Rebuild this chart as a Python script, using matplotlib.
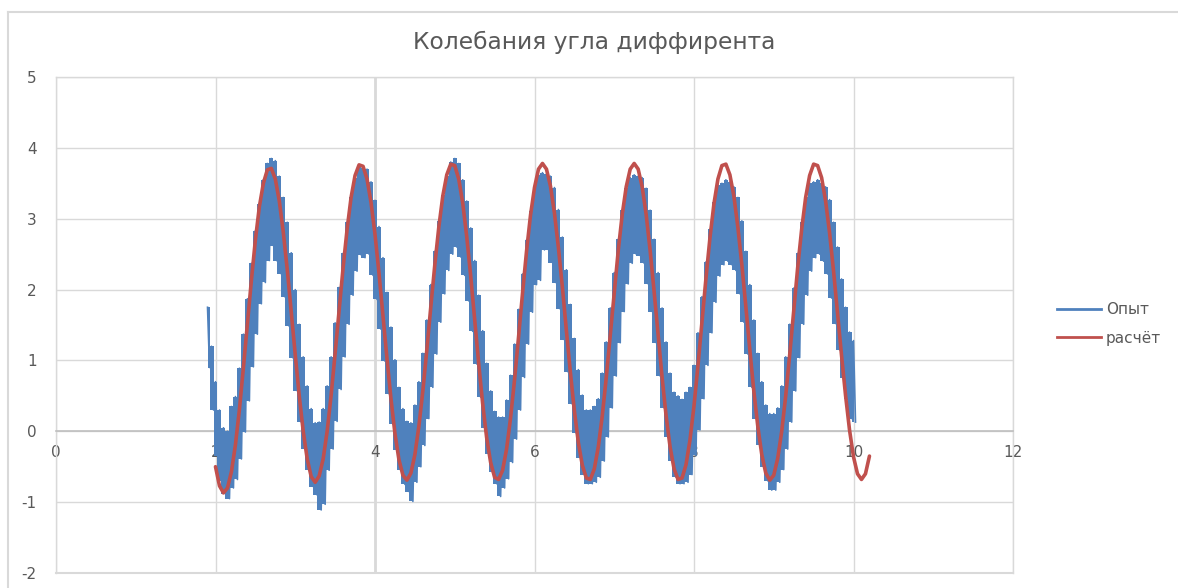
import numpy as np
import matplotlib.pyplot as plt
from matplotlib.lines import Line2D

title = "Колебания угла диффирента"
names = ["Опыт", "расчёт"]

x_ticks = [0, 2, 4, 6, 8, 10, 12]
y_ticks = [-2, -1, 0, 1, 2, 3, 4, 5]

# расчёт: x from 2.00 step 0.05
calc_x0, calc_dx = 2.0, 0.05
calc_y = [
    -0.50, -0.77, -0.87, -0.80, -0.57, -0.19, 0.31, 0.90, 1.52, 2.13,
    2.70, 3.17, 3.50, 3.69, 3.71, 3.56, 3.25, 2.81, 2.28, 1.68,
    1.08, 0.50, 0.00, -0.39, -0.64, -0.72, -0.63, -0.39, 0.00, 0.51,
    1.10, 1.71, 2.31, 2.85, 3.30, 3.61, 3.76, 3.74, 3.56, 3.23,
    2.78, 2.23, 1.63, 1.03, 0.46, -0.03, -0.40, -0.62, -0.69, -0.59,
    -0.33, 0.07, 0.57, 1.15, 1.76, 2.35, 2.88, 3.32, 3.62, 3.77,
    3.75, 3.56, 3.22, 2.75, 2.19, 1.58, 0.96, 0.39, -0.09, -0.44,
    -0.65, -0.68, -0.55, -0.25, 0.19, 0.73, 1.33, 1.95, 2.54, 3.05,
    3.44, 3.70, 3.78, 3.70, 3.46, 3.08, 2.59, 2.03, 1.42, 0.83,
    0.29, -0.16, -0.48, -0.66, -0.68, -0.53, -0.22, 0.22, 0.76, 1.36,
    1.97, 2.55, 3.06, 3.45, 3.70, 3.78, 3.70, 3.45, 3.06, 2.55,
    1.97, 1.36, 0.76, 0.22, -0.22, -0.53, -0.68, -0.66, -0.47, -0.12,
    0.36, 0.93, 1.55, 2.16, 2.73, 3.21, 3.56, 3.75, 3.77, 3.62,
    3.32, 2.88, 2.35, 1.76, 1.15, 0.57, 0.07, -0.33, -0.59, -0.69,
    -0.62, -0.38, 0.00, 0.50, 1.08, 1.70, 2.31, 2.85, 3.30, 3.61,
    3.77, 3.75, 3.58, 3.25, 2.80, 2.26, 1.67, 1.07, 0.51, 0.02,
    -0.36, -0.60, -0.68, -0.60, -0.35,
]

# Опыт: noisy record, read as upper / lower edge of the band, x from 1.90 step 0.05
exp_x0, exp_dx = 1.9, 0.05
exp_hi = [
    1.75, 1.20, 0.70, 0.30, 0.05, 0.00, 0.35, 0.49, 0.89, 1.37,
    1.87, 2.37, 2.83, 3.21, 3.55, 3.78, 3.85, 3.82, 3.60, 3.30,
    2.95, 2.52, 2.00, 1.51, 1.05, 0.64, 0.32, 0.12, 0.13, 0.32,
    0.64, 1.05, 1.53, 2.03, 2.51, 2.95, 3.31, 3.58, 3.75, 3.72,
    3.70, 3.52, 3.26, 2.89, 2.45, 1.96, 1.47, 1.01, 0.62, 0.32,
    0.14, 0.12, 0.37, 0.70, 1.10, 1.57, 2.07, 2.54, 2.97, 3.33,
    3.60, 3.80, 3.85, 3.78, 3.55, 3.25, 2.87, 2.41, 1.92, 1.42,
    0.96, 0.57, 0.28, 0.20, 0.20, 0.44, 0.79, 1.23, 1.72, 2.22,
    2.70, 3.11, 3.43, 3.62, 3.65, 3.63, 3.60, 3.44, 3.13, 2.74,
    2.28, 1.79, 1.31, 0.87, 0.51, 0.30, 0.30, 0.35, 0.46, 0.82,
    1.26, 1.74, 2.24, 2.71, 3.12, 3.43, 3.58, 3.62, 3.60, 3.58,
    3.43, 3.12, 2.71, 2.24, 1.74, 1.26, 0.82, 0.55, 0.50, 0.45,
    0.55, 0.62, 0.93, 1.39, 1.90, 2.39, 2.85, 3.24, 3.48, 3.50,
    3.55, 3.52, 3.45, 3.30, 2.97, 2.54, 2.07, 1.57, 1.10, 0.70,
    0.37, 0.25, 0.25, 0.33, 0.64, 1.05, 1.51, 2.02, 2.51, 2.95,
    3.31, 3.50, 3.52, 3.55, 3.50, 3.45, 3.27, 2.95, 2.60, 2.15,
    1.75, 1.40, 1.28,
]
exp_lo = [
    0.90, 0.30, -0.35, -0.70, -0.88, -0.95, -0.80, -0.68, -0.39, -0.01,
    0.43, 0.91, 1.37, 1.80, 2.10, 2.41, 2.62, 2.40, 2.22, 1.89,
    1.48, 1.03, 0.57, 0.13, -0.25, -0.55, -0.78, -0.90, -1.11, -1.03,
    -0.55, -0.25, 0.14, 0.59, 1.05, 1.51, 1.92, 2.26, 2.49, 2.45,
    2.50, 2.20, 1.86, 1.44, 0.99, 0.53, 0.10, -0.27, -0.55, -0.75,
    -0.85, -0.99, -0.72, -0.50, -0.20, 0.18, 0.62, 1.09, 1.54, 1.94,
    2.27, 2.50, 2.60, 2.46, 2.20, 1.84, 1.41, 0.95, 0.48, 0.05,
    -0.32, -0.58, -0.74, -0.92, -0.80, -0.67, -0.44, -0.11, 0.30, 0.76,
    1.23, 1.68, 2.07, 2.13, 2.56, 2.56, 2.38, 2.09, 1.72, 1.29,
    0.83, 0.38, -0.03, -0.37, -0.61, -0.74, -0.74, -0.72, -0.65, -0.42,
    -0.08, 0.33, 0.78, 1.25, 1.69, 2.08, 2.37, 2.50, 2.48, 2.37,
    2.08, 1.69, 1.25, 0.78, 0.33, -0.08, -0.42, -0.65, -0.74, -0.74,
    -0.72, -0.61, -0.34, 0.02, 0.46, 0.93, 1.39, 1.82, 2.19, 2.35,
    2.40, 2.35, 2.27, 1.94, 1.54, 1.09, 0.62, 0.18, -0.20, -0.50,
    -0.70, -0.83, -0.83, -0.72, -0.54, -0.25, 0.13, 0.57, 1.04, 1.51,
    1.92, 2.26, 2.45, 2.50, 2.40, 2.22, 1.88, 1.52, 1.15, 0.75,
    0.45, 0.18, 0.13,
]

blue = '#4F81BD'
red = '#C0504D'
grid_c = '#D9D9D9'
text_c = '#595959'

plt.rcParams['font.family'] = ['DejaVu Sans']
plt.rcParams['axes.unicode_minus'] = False

calc_x = calc_x0 + calc_dx * np.arange(len(calc_y))
exp_x = exp_x0 + exp_dx * np.arange(len(exp_hi))
# the record swings between its upper and lower edge sample by sample
zig_x = np.column_stack([exp_x, exp_x + exp_dx / 2]).ravel()
zig_y = np.column_stack([exp_hi, exp_lo]).ravel()

fig = plt.figure(figsize=(11.78, 5.88), dpi=100)
ax = fig.add_axes([56 / 1178, 1 - 573 / 588, (1013 - 56) / 1178, (573 - 77) / 588])

ax.fill_between(exp_x, exp_lo, exp_hi, step='mid', color=blue, lw=0, zorder=3)
ax.plot(zig_x, zig_y, color=blue, lw=1.2, zorder=3)
ax.plot(calc_x, calc_y, color=red, lw=2.6, zorder=4, solid_capstyle='round')

ax.set_xlim(0, 12)
ax.set_ylim(-2, 5)
ax.set_xticks(x_ticks)
ax.set_yticks(y_ticks)
ax.grid(True, color=grid_c, lw=1, zorder=0)
ax.axvline(4, color=grid_c, lw=2, zorder=0)

for s in ['left', 'top', 'right']:
    ax.spines[s].set_color(grid_c)
    ax.spines[s].set_linewidth(1)
ax.spines['bottom'].set_position(('data', 0))
ax.spines['bottom'].set_color('#BFBFBF')
ax.spines['bottom'].set_linewidth(1.2)
ax.axhline(-2, color=grid_c, lw=1.5, clip_on=False, zorder=0)

ax.tick_params(axis='both', length=0, labelsize=11, colors=text_c)
ax.tick_params(axis='y', pad=14)
ax.tick_params(axis='x', pad=10)

fig.text(594 / 1178, 1 - 42 / 588, title, fontsize=16.8, color=text_c,
         ha='center', va='center')

handles = [Line2D([], [], color=blue, lw=2), Line2D([], [], color=red, lw=2)]
ax.legend(handles, names, loc='center left', bbox_to_anchor=(1057 / 1178, 1 - 324 / 588),
          bbox_transform=fig.transFigure, frameon=False, fontsize=11,
          handlelength=2.9, handletextpad=0.3, labelspacing=0.85,
          borderpad=0, borderaxespad=0, labelcolor=text_c)

# chart area border
fig.add_artist(Line2D([7.5 / 1178, 7.5 / 1178], [0, 1 - 12 / 588], color=grid_c, lw=1.5))
fig.add_artist(Line2D([7.5 / 1178, 1], [1 - 12 / 588, 1 - 12 / 588], color=grid_c, lw=1.5))

fig.savefig('out.png', dpi=100)
